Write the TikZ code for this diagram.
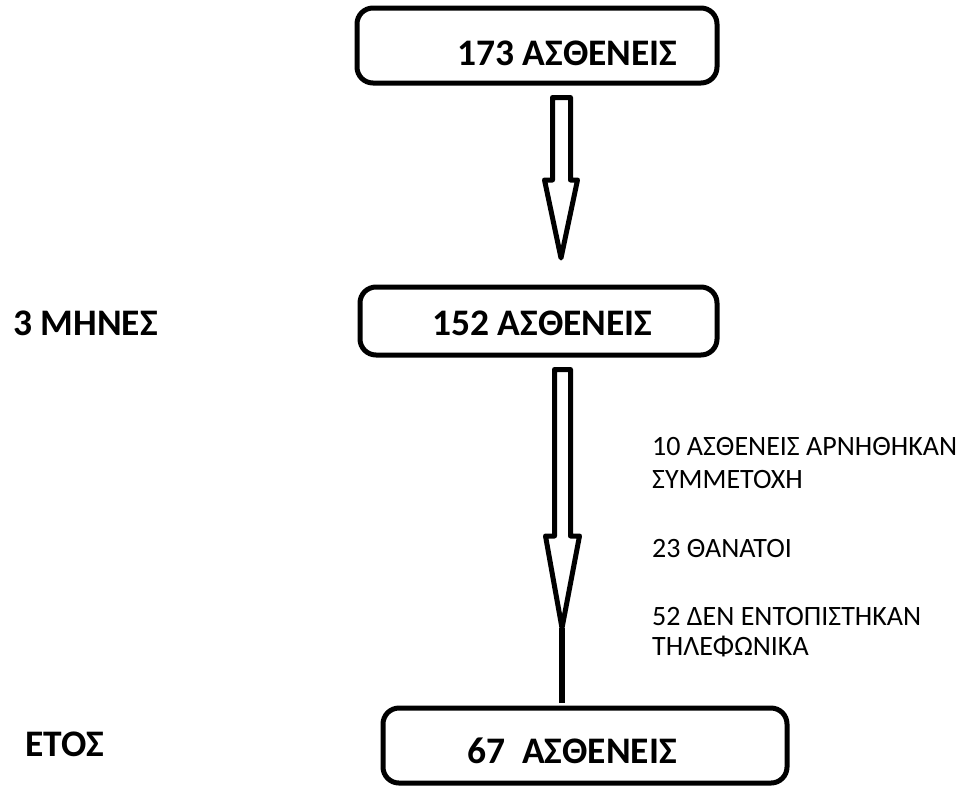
\documentclass[tikz,border=0pt]{standalone}
\usepackage{fontspec}
\setmainfont{Carlito}
\usetikzlibrary{calc}
\begin{document}
\begin{tikzpicture}[x=1pt,y=-1pt,
  stagebox/.style={draw=black,line width=5pt,rounded corners=16pt,inner sep=0pt},
  boldtxt/.style={anchor=base west,inner sep=0pt,font=\fontsize{37.5}{44}\selectfont\bfseries},
  notetxt/.style={anchor=base west,inner sep=0pt,font=\fontsize{28}{33}\selectfont},
  blockarrow/.style={draw=black,fill=white,line width=5pt,line join=round}]
\useasboundingbox (0,0) rectangle (968,785);
% boxes
\node[stagebox,minimum width=360pt,minimum height=75pt] (b1) at (537,45.5) {};
\node[stagebox,minimum width=357pt,minimum height=68pt] (b2) at (538.5,321) {};
\node[stagebox,minimum width=404pt,minimum height=75pt] (b3) at (585,745.5) {};
% box texts
\node[boldtxt] (t1) at (457,65) {173 ΑΣΘΕΝΕΙΣ};
\node[boldtxt] (t2) at (432,335) {152 ΑΣΘΕΝΕΙΣ};
\node[boldtxt] (t3) at (467,763) {67\ \ ΑΣΘΕΝΕΙΣ};
% side labels
\node[boldtxt] (m3) at (13,335) {3 ΜΗΝΕΣ};
\node[boldtxt] (yr) at (25,756) {ΕΤΟΣ};
% notes
\node[notetxt] (n1) at (652,455) {10 ΑΣΘΕΝΕΙΣ ΑΡΝΗΘΗΚΑΝ};
\node[notetxt] (n2) at (652,488) {ΣΥΜΜΕΤΟΧΗ};
\node[notetxt] (n3) at (652,557) {23 ΘΑΝΑΤΟΙ};
\node[notetxt] (n4) at (652,625) {52 ΔΕΝ ΕΝΤΟΠΙΣΤΗΚΑΝ};
\node[notetxt] (n5) at (652,655) {ΤΗΛΕΦΩΝΙΚΑ};
% arrow 1
\coordinate (a1s) at (561.5,97.5);
\coordinate (a1e) at (561,258);
\draw[blockarrow] ($(a1s)+(-9,0)$) -- ($(a1s)+(9,0)$) -- ($(a1s)+(9,82.5)$) -- ($(a1s)+(16,82.5)$)
  -- (a1e) -- ($(a1s)+(-17,82.5)$) -- ($(a1s)+(-9,82.5)$) -- cycle;
% arrow 2
\coordinate (a2s) at (562.5,369.5);
\coordinate (a2t) at (562,628);
\coordinate (a2e) at (562,703);
\draw[line width=6pt] (a2t) -- (a2e);
\draw[blockarrow] ($(a2s)+(-8,0)$) -- ($(a2s)+(8,0)$) -- ($(a2s)+(8,166.5)$) -- ($(a2s)+(17,166.5)$)
  -- (a2t) -- ($(a2s)+(-17,166.5)$) -- ($(a2s)+(-8,166.5)$) -- cycle;
\end{tikzpicture}
\end{document}
